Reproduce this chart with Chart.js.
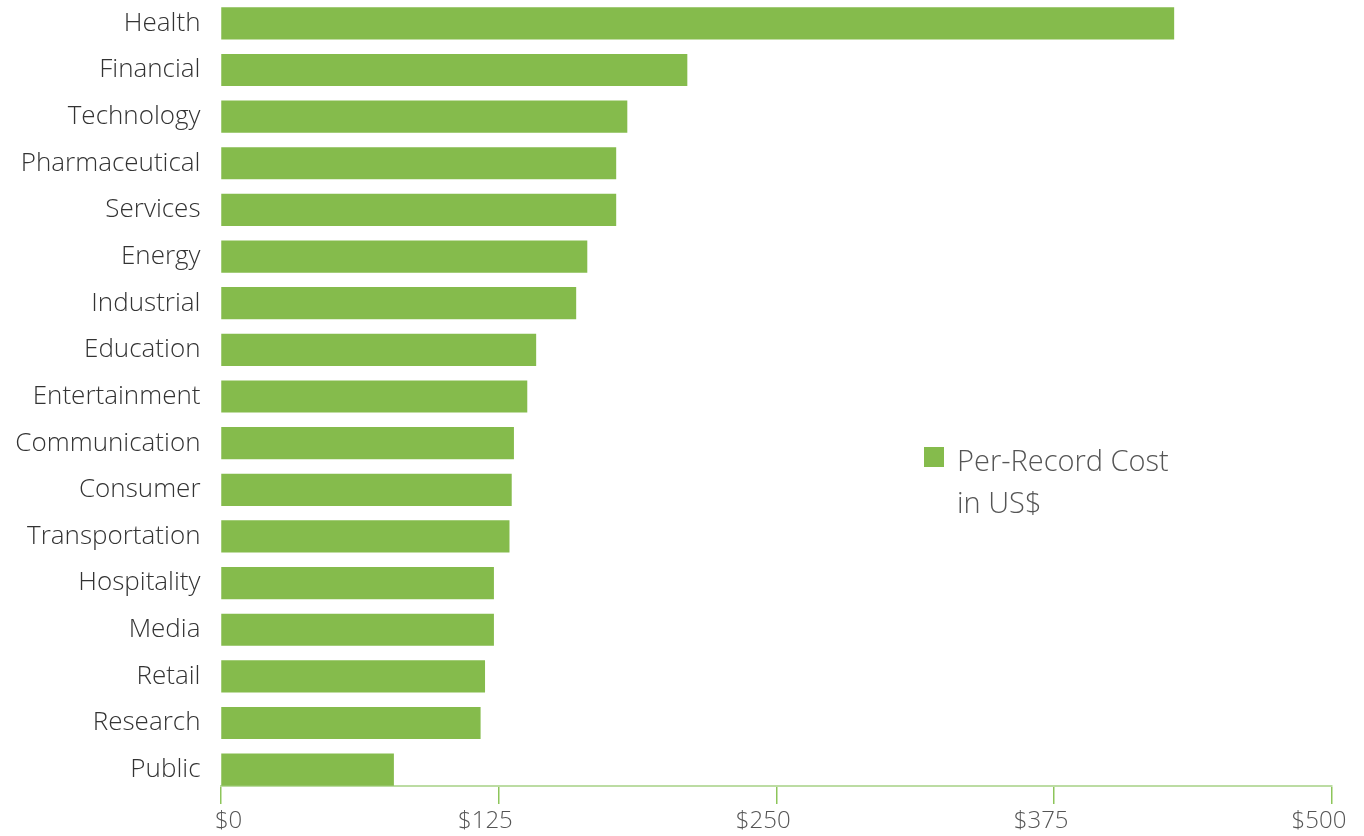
<!DOCTYPE html>
<html lang="en">
<head>
    <meta charset="UTF-8">
    <title>Per-Record Cost by Industry</title>
    <style>
        body {
            margin: 0;
            background: #ffffff;
            font-family: "Open Sans", Arial, sans-serif;
        }
        #wrap {
            position: relative;
            width: 1364px;
            height: 836px;
        }
        #legend {
            position: absolute;
            left: 924px;
            top: 439px;
            display: flex;
            align-items: flex-start;
        }
        #legend .box {
            width: 20px;
            height: 20px;
            margin-top: 8px;
            margin-right: 13px;
        }
        #legend .text {
            width: 235px;
            font-size: 29px;
            font-weight: 300;
            line-height: 42px;
            color: #555555;
        }
    </style>
    <script src="https://cdn.jsdelivr.net/npm/chart.js"></script>
</head>
<body>
    <div id="wrap">
        <canvas id="grafico" width="1364" height="836"></canvas>
        <div id="legend"></div>
    </div>

    <script>
        // Setores (de cima para baixo)
        const categorias = [
            "Health", "Financial", "Technology", "Pharmaceutical", "Services",
            "Energy", "Industrial", "Education", "Entertainment", "Communication",
            "Consumer", "Transportation", "Hospitality", "Media", "Retail",
            "Research", "Public"
        ];

        // Custo por registro em US$
        const custos = [429, 210, 183, 178, 178, 165, 160, 142, 138, 132, 131, 130, 123, 123, 119, 117, 78];

        const ticksX = [0, 125, 250, 375, 500];
        const nomeSerie = "Per-Record Cost in US$";

        const verde = "#85bb4c";

        const ctx = document.getElementById("grafico").getContext("2d");

        const chart = new Chart(ctx, {
            type: "bar",
            data: {
                datasets: [{
                    label: nomeSerie,
                    data: custos.map((v, i) => ({ x: v, y: i })),
                    backgroundColor: verde,
                    borderWidth: 0,
                    barPercentage: 0.69,
                    categoryPercentage: 1,
                }],
            },
            options: {
                indexAxis: "y",
                responsive: false,
                animation: false,
                layout: { padding: { top: 0, right: 32, bottom: 0, left: 0 } },
                plugins: {
                    legend: { display: false },
                    tooltip: { enabled: false },
                },
                scales: {
                    x: {
                        type: "linear",
                        min: 0,
                        max: 500,
                        afterBuildTicks: (s) => { s.ticks = ticksX.map((v) => ({ value: v })); },
                        afterFit: (s) => {
                            s.height = 50;
                            s.paddingLeft = 0;
                            s.paddingRight = 0;
                        },
                        grid: {
                            drawOnChartArea: false,
                            drawTicks: true,
                            tickLength: 18,
                            tickColor: "#8dc55a",
                            lineWidth: 1.5,
                        },
                        border: { display: true, color: "#bcdca3", width: 2 },
                        ticks: {
                            padding: 3,
                            labelOffset: -13,
                            maxRotation: 0,
                            color: "#555555",
                            font: { family: "'Open Sans', Arial, sans-serif", size: 24, weight: 300 },
                            // o "$0" fica alinhado a partir do tick no original
                            callback: (v) => (v === 0 ? "\u2003\u2002 $0" : "$" + v),
                        },
                    },
                    y: {
                        type: "linear",
                        reverse: true,
                        offset: false,
                        min: -0.5,
                        max: 16.35,
                        afterBuildTicks: (s) => { s.ticks = categorias.map((_, i) => ({ value: i })); },
                        afterFit: (s) => {
                            s.width = 220.5;
                            s.paddingTop = 0;
                            s.paddingBottom = 0;
                        },
                        grid: { display: false, drawTicks: false, offset: false },
                        border: { display: false },
                        ticks: {
                            padding: 20,
                            color: "#333333",
                            font: { family: "'Open Sans', Arial, sans-serif", size: 26, weight: 300 },
                            callback: (v) => categorias[v] ?? "",
                        },
                    },
                },
            },
        });

        // Legenda em HTML (o texto quebra em duas linhas)
        const ds = chart.data.datasets[0];
        document.getElementById("legend").innerHTML =
            '<div class="box" style="background:' + ds.backgroundColor + '"></div>' +
            '<div class="text">' + ds.label + '</div>';
    </script>
</body>
</html>
